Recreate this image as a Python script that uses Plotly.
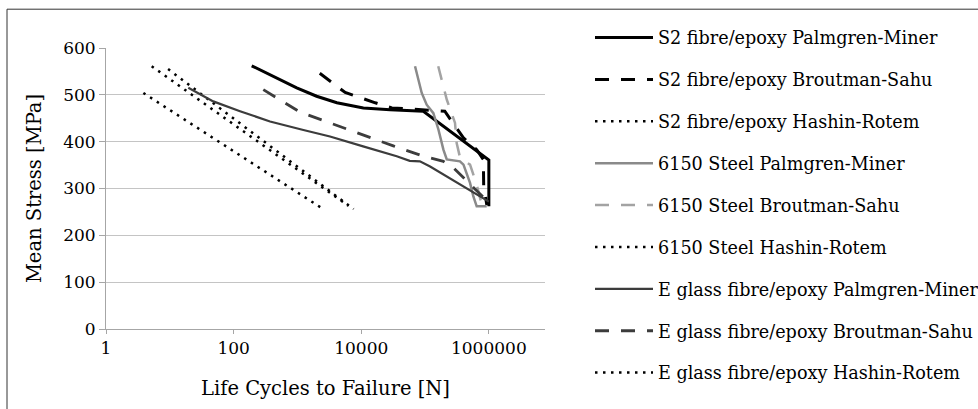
import plotly.graph_objects as go

# ---- data ----
series_names = [
    "S2 fibre/epoxy Palmgren-Miner",
    "S2 fibre/epoxy Broutman-Sahu",
    "S2 fibre/epoxy Hashin-Rotem",
    "6150 Steel Palmgren-Miner",
    "6150 Steel Broutman-Sahu",
    "6150 Steel Hashin-Rotem",
    "E glass fibre/epoxy Palmgren-Miner",
    "E glass fibre/epoxy Broutman-Sahu",
    "E glass fibre/epoxy Hashin-Rotem",
]

s2_pm_n = [192, 420, 975, 2000, 4150, 10800, 28300, 94000, 1000000, 1000000]
s2_pm_s = [562, 539, 515, 497, 483, 472, 468, 465, 361, 262]

s2_bs_n = [2240, 5600, 16600, 30200, 57500, 94000, 204000, 263000, 400000, 645000, 820000, 830000, 930000]
s2_bs_s = [546, 505, 483, 472, 470, 468, 465, 443, 408, 383, 362, 305, 265]

s2_hr_n = [5.2, 6300]
s2_hr_s = [561, 263]

st_pm_n = [69700, 88700, 106000, 135000, 162000, 194000, 219000, 353000, 400000, 507000, 572000, 645000, 925000]
st_pm_s = [561, 504, 479, 461, 426, 383, 362, 358, 351, 312, 283, 262, 262]

st_bs_n = [161000, 219000, 295000, 313000, 355000, 507000, 645000, 776000]
st_bs_s = [561, 490, 440, 397, 365, 351, 308, 265]

st_hr_n = [9.4, 7600]
st_hr_s = [555, 256]

eg_pm_n = [19.5, 48, 126, 372, 1240, 3240, 10700, 36000, 57500, 83000, 120000, 1000000]
eg_pm_s = [515, 486, 465, 443, 425, 411, 390, 369, 359, 358, 347, 272]

eg_bs_n = [292, 1100, 3240, 10200, 31800, 94000, 194000, 279000, 540000, 927000]
eg_bs_s = [511, 463, 440, 415, 391, 369, 358, 344, 305, 274]

eg_hr_n = [3.85, 2540]
eg_hr_s = [504, 256]

x_tick_vals = [1, 100, 10000, 1000000]
x_tick_text = ["1", "100", "10000", "1000000"]
y_tick_vals = [0, 100, 200, 300, 400, 500, 600]

# ---- styles ----
FONT = "DejaVu Serif"
DASH = "14px,12px"
DOT = "2.5px,5.5px"
styles = [
    dict(color="#000000", width=3, dash="solid"),
    dict(color="#000000", width=3, dash=DASH),
    dict(color="#000000", width=2.5, dash=DOT),
    dict(color="#8a8a8a", width=2.5, dash="solid"),
    dict(color="#a3a3a3", width=2.5, dash=DASH),
    dict(color="#000000", width=2.5, dash=DOT),
    dict(color="#3c3c3c", width=2.2, dash="solid"),
    dict(color="#3c3c3c", width=2.8, dash=DASH),
    dict(color="#000000", width=2.5, dash=DOT),
]
data = [
    (s2_pm_n, s2_pm_s), (s2_bs_n, s2_bs_s), (s2_hr_n, s2_hr_s),
    (st_pm_n, st_pm_s), (st_bs_n, st_bs_s), (st_hr_n, st_hr_s),
    (eg_pm_n, eg_pm_s), (eg_bs_n, eg_bs_s), (eg_hr_n, eg_hr_s),
]

fig = go.Figure()
for i, (name, (xs, ys), st) in enumerate(zip(series_names, data, styles)):
    fig.add_trace(go.Scatter(
        x=xs, y=ys, mode="lines", name=name, legendgroup=f"g{i}",
        line=dict(color=st["color"], width=st["width"], dash=st["dash"]),
        hoverinfo="skip",
    ))

L, R, T, B = 106, 433, 48, 80
PW, PH = 978 - L - R, 409 - T - B
fig.update_layout(
    width=978, height=409,
    margin=dict(l=L, r=R, t=T, b=B, pad=0, autoexpand=False),
    paper_bgcolor="white", plot_bgcolor="white",
    font=dict(family=FONT, size=16, color="#000000"),
    showlegend=True,
    legend=dict(
        x=(590 - L) / PW, xanchor="left",
        yref="container", y=0.952, yanchor="top",
        traceorder="grouped", tracegroupgap=16, maxheight=405,
        itemwidth=58, font=dict(family=FONT, size=17.6, color="#000000"),
        bgcolor="rgba(0,0,0,0)",
    ),
    xaxis=dict(
        type="log", range=[0, 6.88], automargin=False,
        tickvals=x_tick_vals, ticktext=x_tick_text,
        showgrid=False, showline=True, linecolor="#a6a6a6", linewidth=1,
        ticks="outside", ticklen=4, tickcolor="#a6a6a6",
        tickfont=dict(family=FONT, size=17),
        title=dict(text="Life Cycles to Failure [N]", font=dict(family=FONT, size=19.5), standoff=23),
        zeroline=False,
    ),
    yaxis=dict(
        range=[0, 600], tickvals=y_tick_vals, automargin=False,
        showgrid=True, gridcolor="#c4c4c4", gridwidth=1,
        showline=True, linecolor="#a6a6a6", linewidth=1,
        ticks="outside", ticklen=6, tickcolor="#a6a6a6",
        tickfont=dict(family=FONT, size=17),
        title=dict(text="Mean Stress [MPa]", font=dict(family=FONT, size=19.5), standoff=16),
        zeroline=False,
    ),
    shapes=[dict(type="rect", xref="paper", yref="paper",
                 x0=(7 - L) / PW, x1=2.0, y0=-0.5, y1=(329.3 - 9.5) / PH,
                 line=dict(color="#333333", width=1), fillcolor="rgba(0,0,0,0)", layer="below")],
)

fig.write_html(
    "out.html",
    config={"displayModeBar": False},
    post_script="document.body.style.margin='0';document.body.style.padding='0';document.body.style.overflow='hidden';",
)
